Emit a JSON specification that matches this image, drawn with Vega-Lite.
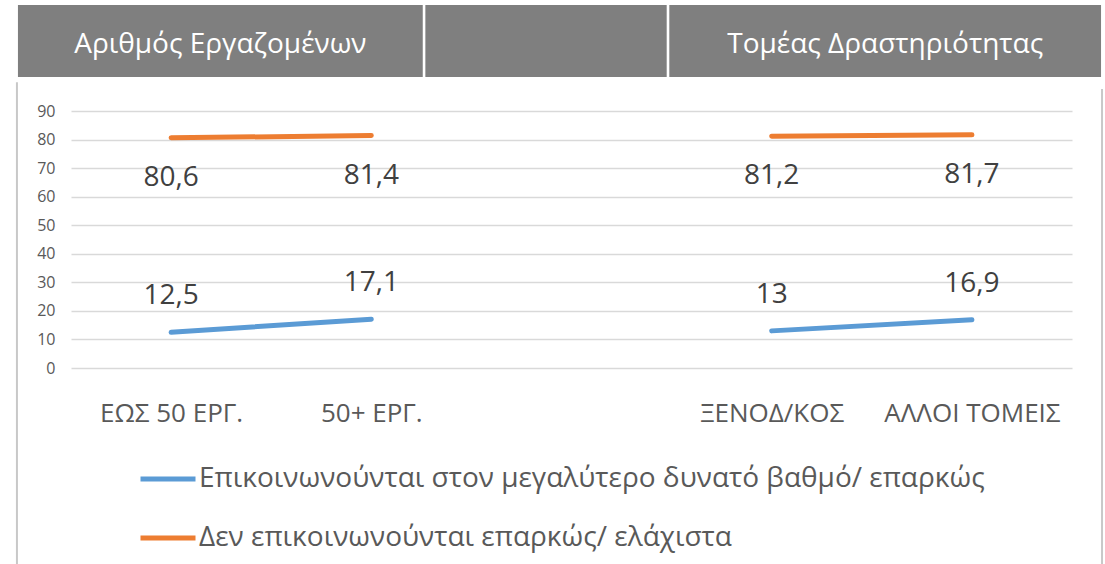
{
  "$schema": "https://vega.github.io/schema/vega-lite/v6.json",
  "autosize": {"type": "none"},
  "width": 1001,
  "height": 257,
  "padding": {"left": 71, "top": 111, "right": 33, "bottom": 196},
  "background": "white",
  "config": {
    "view": {"stroke": null},
    "font": "Open Sans",
    "locale": {"number": {"decimal": ",", "thousands": ".", "grouping": [3], "currency": ["", " €"]}}
  },
  "datasets": {
    "main": [
      {"cat": "ΕΩΣ 50 ΕΡΓ.", "group": "Αριθμός Εργαζομένων", "series": "Επικοινωνούνται στον μεγαλύτερο δυνατό βαθμό/ επαρκώς", "value": 12.5},
      {"cat": "50+ ΕΡΓ.", "group": "Αριθμός Εργαζομένων", "series": "Επικοινωνούνται στον μεγαλύτερο δυνατό βαθμό/ επαρκώς", "value": 17.1},
      {"cat": "ΞΕΝΟΔ/ΚΟΣ", "group": "Τομέας Δραστηριότητας", "series": "Επικοινωνούνται στον μεγαλύτερο δυνατό βαθμό/ επαρκώς", "value": 13},
      {"cat": "ΑΛΛΟΙ ΤΟΜΕΙΣ", "group": "Τομέας Δραστηριότητας", "series": "Επικοινωνούνται στον μεγαλύτερο δυνατό βαθμό/ επαρκώς", "value": 16.9},
      {"cat": "ΕΩΣ 50 ΕΡΓ.", "group": "Αριθμός Εργαζομένων", "series": "Δεν επικοινωνούνται επαρκώς/ ελάχιστα", "value": 80.6},
      {"cat": "50+ ΕΡΓ.", "group": "Αριθμός Εργαζομένων", "series": "Δεν επικοινωνούνται επαρκώς/ ελάχιστα", "value": 81.4},
      {"cat": "ΞΕΝΟΔ/ΚΟΣ", "group": "Τομέας Δραστηριότητας", "series": "Δεν επικοινωνούνται επαρκώς/ ελάχιστα", "value": 81.2},
      {"cat": "ΑΛΛΟΙ ΤΟΜΕΙΣ", "group": "Τομέας Δραστηριότητας", "series": "Δεν επικοινωνούνται επαρκώς/ ελάχιστα", "value": 81.7}
    ]
  },
  "layer": [
    {
      "data": {"name": "main"},
      "encoding": {
        "x": {
          "field": "cat", "type": "ordinal", "sort": null,
          "scale": {"domain": ["ΕΩΣ 50 ΕΡΓ.", "50+ ΕΡΓ.", " ", "ΞΕΝΟΔ/ΚΟΣ", "ΑΛΛΟΙ ΤΟΜΕΙΣ"], "paddingInner": 0, "paddingOuter": 0},
          "axis": {"title": null, "domain": false, "ticks": false, "labelPadding": 32, "labelFontSize": 26, "labelColor": "#595959", "labelAngle": 0, "labelFont": "Open Sans", "labelLimit": 300}
        },
        "y": {
          "field": "value", "type": "quantitative",
          "scale": {"domain": [0, 90], "nice": false, "zero": false},
          "axis": {"title": null, "domain": false, "ticks": false, "values": [0, 10, 20, 30, 40, 50, 60, 70, 80, 90], "labelOverlap": false, "labelFontSize": 16, "labelColor": "#595959", "labelPadding": 16, "labelFont": "Open Sans", "grid": true, "gridColor": "#d9d9d9", "gridWidth": 1.5}
        }
      },
      "layer": [
        {
          "mark": {"type": "line", "strokeWidth": 5, "strokeCap": "round"},
          "encoding": {
            "detail": {"field": "group"},
            "color": {
              "field": "series", "type": "nominal",
              "scale": {"domain": ["Επικοινωνούνται στον μεγαλύτερο δυνατό βαθμό/ επαρκώς", "Δεν επικοινωνούνται επαρκώς/ ελάχιστα"], "range": ["#5B9BD5", "#ED7D31"]},
              "legend": {
                "title": null, "orient": "none", "legendX": 67, "legendY": 338, "direction": "vertical",
                "symbolType": "stroke", "symbolSize": 3025, "symbolStrokeWidth": 5,
                "labelFontSize": 28, "labelFont": "Open Sans", "labelColor": "#595959", "labelOffset": 1, "labelLimit": 1000,
                "rowPadding": 15
              }
            }
          }
        },
        {
          "transform": [{"filter": "datum.series === 'Δεν επικοινωνούνται επαρκώς/ ελάχιστα'"}],
          "mark": {"type": "text", "fontSize": 28, "font": "Open Sans", "color": "#404040", "baseline": "middle", "dy": 40},
          "encoding": {"text": {"field": "value", "type": "quantitative", "format": "~g"}}
        },
        {
          "transform": [{"filter": "datum.series === 'Επικοινωνούνται στον μεγαλύτερο δυνατό βαθμό/ επαρκώς'"}],
          "mark": {"type": "text", "fontSize": 28, "font": "Open Sans", "color": "#404040", "baseline": "middle", "dy": -36},
          "encoding": {"text": {"field": "value", "type": "quantitative", "format": "~g"}}
        }
      ]
    },
    {
      "layer": [
        {
          "data": {"values": [{}]},
          "mark": {"type": "rect", "fill": "#7f7f7f"},
          "encoding": {
            "x": {"datum": 0.235, "type": "quantitative", "scale": {"domain": [0.5, 5.5], "nice": false, "zero": false}, "axis": null},
            "x2": {"datum": 2.257},
            "y": {"datum": 101.9, "type": "quantitative", "scale": {"domain": [0, 90], "nice": false, "zero": false}, "axis": null},
            "y2": {"datum": 127.1}
          }
        },
        {
          "data": {"values": [{}]},
          "mark": {"type": "rect", "fill": "#7f7f7f"},
          "encoding": {
            "x": {"datum": 2.27, "type": "quantitative", "scale": {"domain": [0.5, 5.5], "nice": false, "zero": false}, "axis": null},
            "x2": {"datum": 3.4755},
            "y": {"datum": 101.9, "type": "quantitative", "scale": {"domain": [0, 90], "nice": false, "zero": false}, "axis": null},
            "y2": {"datum": 127.1}
          }
        },
        {
          "data": {"values": [{}]},
          "mark": {"type": "rect", "fill": "#7f7f7f"},
          "encoding": {
            "x": {"datum": 3.4885, "type": "quantitative", "scale": {"domain": [0.5, 5.5], "nice": false, "zero": false}, "axis": null},
            "x2": {"datum": 5.645},
            "y": {"datum": 101.9, "type": "quantitative", "scale": {"domain": [0, 90], "nice": false, "zero": false}, "axis": null},
            "y2": {"datum": 127.1}
          }
        },
        {
          "data": {"values": [{"label": "Αριθμός Εργαζομένων"}]},
          "mark": {"type": "text", "fontSize": 28, "font": "Open Sans", "color": "white", "baseline": "middle", "align": "center"},
          "encoding": {
            "text": {"field": "label"},
            "x": {"datum": 1.246, "type": "quantitative", "scale": {"domain": [0.5, 5.5], "nice": false, "zero": false}, "axis": null},
            "y": {"datum": 113, "type": "quantitative", "scale": {"domain": [0, 90], "nice": false, "zero": false}, "axis": null}
          }
        },
        {
          "data": {"values": [{"label": "Τομέας Δραστηριότητας"}]},
          "mark": {"type": "text", "fontSize": 28, "font": "Open Sans", "color": "white", "baseline": "middle", "align": "center"},
          "encoding": {
            "text": {"field": "label"},
            "x": {"datum": 4.567, "type": "quantitative", "scale": {"domain": [0.5, 5.5], "nice": false, "zero": false}, "axis": null},
            "y": {"datum": 113, "type": "quantitative", "scale": {"domain": [0, 90], "nice": false, "zero": false}, "axis": null}
          }
        },
        {
          "data": {"values": [{}]},
          "mark": {"type": "rule", "color": "#c8c8c8", "strokeWidth": 2},
          "encoding": {
            "x": {"datum": 0.23, "type": "quantitative", "scale": {"domain": [0.5, 5.5], "nice": false, "zero": false}, "axis": null},
            "y": {"datum": 100.1, "type": "quantitative", "scale": {"domain": [0, 90], "nice": false, "zero": false}, "axis": null},
            "y2": {"datum": -70}
          }
        },
        {
          "data": {"values": [{}]},
          "mark": {"type": "rule", "color": "#c8c8c8", "strokeWidth": 2},
          "encoding": {
            "x": {"datum": 5.65, "type": "quantitative", "scale": {"domain": [0.5, 5.5], "nice": false, "zero": false}, "axis": null},
            "y": {"datum": 97.7, "type": "quantitative", "scale": {"domain": [0, 90], "nice": false, "zero": false}, "axis": null},
            "y2": {"datum": -70}
          }
        }
      ]
    }
  ],
  "resolve": {"scale": {"x": "independent", "y": "independent"}}
}
